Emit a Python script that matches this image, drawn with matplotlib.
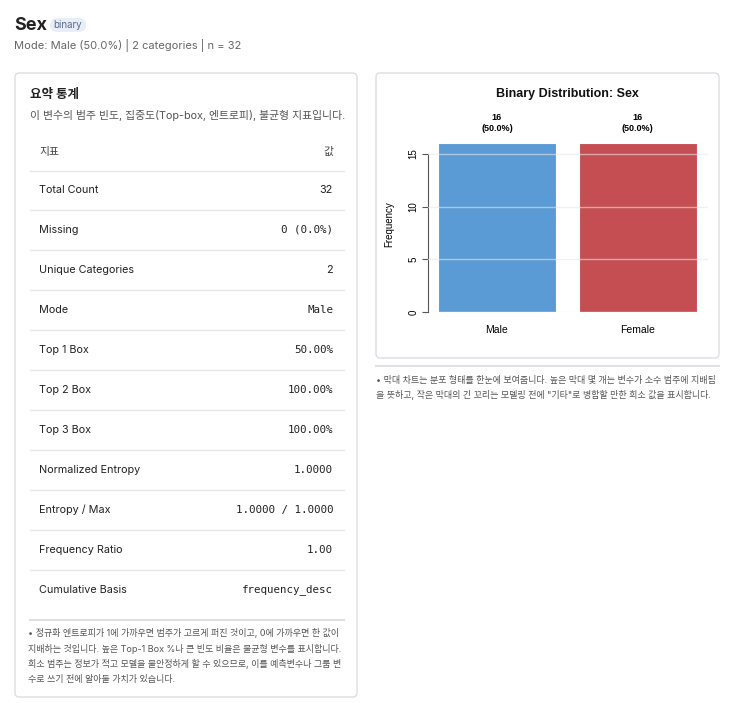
import matplotlib
matplotlib.use("Agg")
import matplotlib.pyplot as plt
from matplotlib.patches import FancyBboxPatch
from matplotlib.lines import Line2D

categories = ["Male", "Female"]
counts = [16, 16]
pcts = [50.0, 50.0]
bar_colors = ["#5b9bd5", "#c44e52"]
yticks = [0, 5, 10, 15]

rows = [("Total Count", "32", False), ("Missing", "0 (0.0%)", True),
        ("Unique Categories", "2", False), ("Mode", "Male", True),
        ("Top 1 Box", "50.00%", True), ("Top 2 Box", "100.00%", True),
        ("Top 3 Box", "100.00%", True), ("Normalized Entropy", "1.0000", True),
        ("Entropy / Max", "1.0000 / 1.0000", True), ("Frequency Ratio", "1.00", True),
        ("Cumulative Basis", "frequency_desc", True)]

W, H = 735, 703
fig = plt.figure(figsize=(W/100, H/100), dpi=100)
FAM = ["Inter", "Noto Sans CJK KR", "DejaVu Sans"]
MONO = ["DejaVu Sans Mono"]

def T(x, y, s, **kw):
    kw.setdefault("family", FAM)
    fig.text(x/W, 1-y/H, s, va="center", **kw)

def box(x0, y0, x1, y1, ec="#dddde3"):
    fig.patches.append(FancyBboxPatch((x0/W, 1-y1/H), (x1-x0)/W, (y1-y0)/H,
        boxstyle="round,pad=0,rounding_size=0.006", transform=fig.transFigure,
        fc="white", ec=ec, lw=1, zorder=0))

def hline(x0, x1, y, c="#e6e6ea", lw=1):
    fig.lines.append(Line2D([x0/W, x1/W], [1-y/H]*2, transform=fig.transFigure, color=c, lw=lw))

T(14, 25, "Sex", fontsize=13, weight="bold", color="#222")
fig.patches.append(FancyBboxPatch((50/W, 1-32/H), 36/W, 14/H,
    boxstyle="round,pad=0,rounding_size=0.01", transform=fig.transFigure, fc="#e8eef8", ec="none"))
T(68, 25, "binary", fontsize=7, color="#5a6a8a", ha="center")
T(14, 46, "Mode: Male (50.0%) | 2 categories | n = 32", fontsize=8, color="#666")

box(15, 73, 357, 697)
T(30, 95, "요약 통계", fontsize=9, weight="bold", color="#222")
T(30, 115, "이 변수의 범주 빈도, 집중도(Top-box, 엔트로피), 불균형 지표입니다.", fontsize=7.8, color="#555")
T(39, 152, "지표", fontsize=7.8, color="#444")
T(333, 152, "값", fontsize=7.8, color="#444", ha="right")
hline(30, 344, 171)
for i, (k, v, mono) in enumerate(rows):
    y = 190 + 40*i
    T(39, y, k, fontsize=7.8, color="#222")
    T(333, y, v, fontsize=7.8, color="#222", ha="right", family=MONO if mono else FAM)
    if i < len(rows)-1:
        hline(30, 344, y+20)
hline(30, 344, 620, c="#e0e0e4", lw=1.5)
notes_l = ["• 정규화 엔트로피가 1에 가까우면 범주가 고르게 퍼진 것이고, 0에 가까우면 한 값이",
           "지배하는 것입니다. 높은 Top-1 Box %나 큰 빈도 비율은 불균형 변수를 표시합니다.",
           "희소 범주는 정보가 적고 모델을 불안정하게 할 수 있으므로, 이를 예측변수나 그룹 변",
           "수로 쓰기 전에 알아둘 가치가 있습니다."]
for i, s in enumerate(notes_l):
    T(28, 633 + 15.5*i, s, fontsize=6.5, color="#555")

box(376, 73, 719, 358)
hline(376, 719, 366, c="#e0e0e4", lw=1.5)
notes_r = ["• 막대 차트는 분포 형태를 한눈에 보여줍니다. 높은 막대 몇 개는 변수가 소수 범주에 지배됨",
           "을 뜻하고, 작은 막대의 긴 꼬리는 모델링 전에 \"기타\"로 병합할 만한 희소 값을 표시합니다."]
for i, s in enumerate(notes_r):
    T(376, 380 + 15*i, s, fontsize=6.5, color="#555")

# chart
ax = fig.add_axes([428/W, 1-312/H, (708-428)/W, (312-137)/H], zorder=5)
ax.patch.set_alpha(0)
x = range(len(categories))
ax.bar(x, counts, width=0.84, color=bar_colors, edgecolor="white", lw=0.8, zorder=2)
ax.set_xlim(-0.49, 1.5)
ax.set_ylim(0, 16.6)
for yt in yticks:
    ax.axhline(yt, color="#e6e6e6", lw=1, zorder=3, alpha=0.6)
ax.set_yticks(yticks)
ax.set_yticklabels([str(t) for t in yticks], rotation=90, va="center", fontsize=7, family="Liberation Sans")
ax.set_xticks(list(x))
ax.set_xticklabels(categories, fontsize=7.5, family="Liberation Sans")
ax.tick_params(axis="x", length=0, pad=9)
ax.tick_params(axis="y", length=4, color="#555", pad=3)
for s in ["top", "right", "bottom"]:
    ax.spines[s].set_visible(False)
ax.spines["left"].set_bounds(0, 15)
ax.spines["left"].set_color("#555")
ax.set_ylabel("Frequency", fontsize=7, family="Liberation Sans", labelpad=10)
for xi, c, p in zip(x, counts, pcts):
    ax.text(xi, c + 1.0, f"{c}\n({p:.1f}%)", ha="center", va="bottom", fontsize=6.5,
            weight="bold", family="Liberation Sans", linespacing=1.3)
T(567, 94, "Binary Distribution: Sex", fontsize=9, weight="bold", ha="center", family="Liberation Sans", color="#111")

fig.savefig("out.png", dpi=100, facecolor="white")
